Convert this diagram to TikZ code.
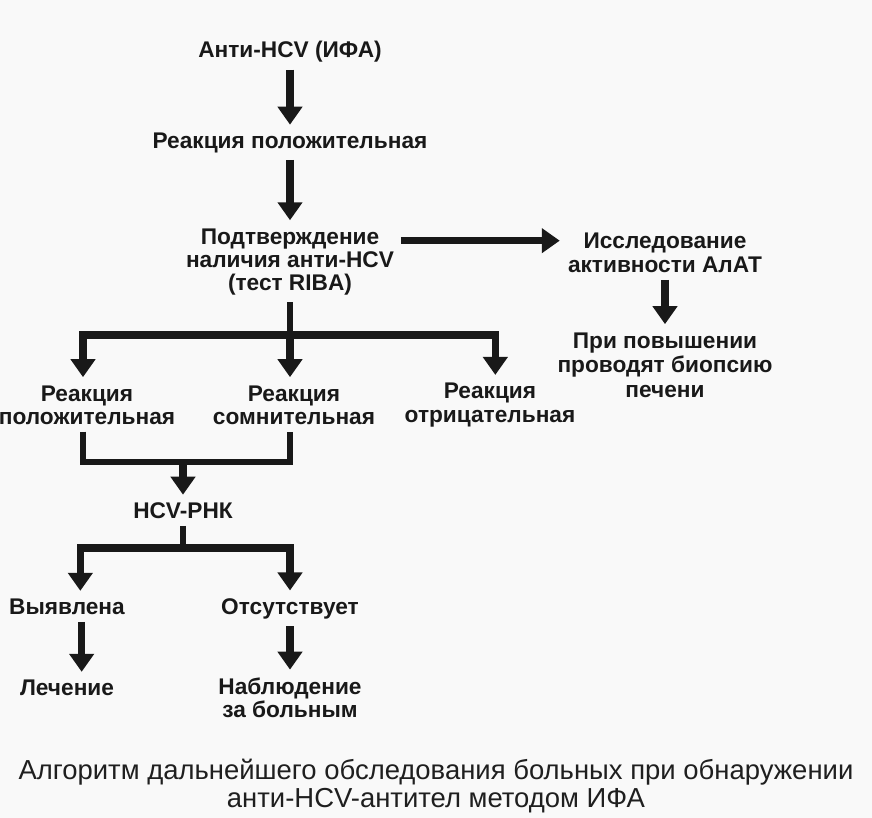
\documentclass[tikz,border=0pt]{standalone}
\usepackage{fontspec}
\setmainfont{Liberation Sans}
\usetikzlibrary{arrows.meta}
\begin{document}
\begin{tikzpicture}[x=0.75pt,y=-0.75pt,
  lbl/.style={font=\bfseries\fontsize{17}{17.5}\selectfont, align=center, inner sep=1pt, text=black!90},
  captxt/.style={font=\fontsize{20.6}{20.5}\selectfont, align=center, inner sep=0pt, text=black!88},
  arr/.style={line width=5.5pt, draw=black!90, -{Triangle[width=18pt,length=13.5pt]}, shorten <=4pt, shorten >=5pt},
  ln/.style={line width=5pt, draw=black!90},
]
\fill[gray!5] (0,0) rectangle (872,818);
\useasboundingbox (0,0) rectangle (872,818);

\node[lbl] (a) at (290,52) {Анти-HCV (ИФА)};
\node[lbl] (b) at (290,143) {Реакция положительная};
\node[lbl] (riba) at (290,262) {Подтверждение\\наличия анти-HCV\\(тест RIBA)};
\node[lbl, font=\bfseries\fontsize{17}{18}\selectfont] (alat) at (665,253) {Исследование\\активности АлАТ};
\node[lbl, font=\bfseries\fontsize{17}{18.5}\selectfont] (biop) at (665,365) {При повышении\\проводят биопсию\\печени};
\node[lbl] (r1) at (87,405) {Реакция\\положительная};
\node[lbl] (r2) at (294,405) {Реакция\\сомнительная};
\node[lbl] (r3) at (490,405) {Реакция\\отрицательная};
\node[lbl] (rna) at (183,511) {HCV-РНК};
\node[lbl] (v) at (67,607) {Выявлена};
\node[lbl] (o) at (290,609) {Отсутствует};
\node[lbl] (l) at (67,688) {Лечение};
\node[lbl] (n) at (290,698) {Наблюдение\\за больным};

\node[captxt] (caption) at (436,786) {Алгоритм дальнейшего обследования больных при обнаружении\\анти-HCV-антител методом ИФА};

\draw[arr] (a) -- (b);
\draw[arr] (b) -- (riba);
\draw[arr] ([yshift=16pt]riba.east) -- ([yshift=16pt]riba.east -| alat.west);
\draw[arr] (alat) -- (biop);

\coordinate (j1) at (290,335);
\draw[ln, shorten <=4pt] (riba.south) -- (j1);
\draw[arr, shorten <=0pt] (j1) -| ([xshift=-3pt]r1.north);
\draw[arr, shorten <=0pt] (j1) -| ([xshift=4pt]r3.north);
\draw[arr, shorten <=0pt] (j1) -- (j1 |- r2.north);

\coordinate (j2) at (183,462);
\draw[ln, shorten <=4pt, shorten >=4pt] ([xshift=-3pt]r1.south) |- (j1 |- j2) -- (j1 |- r2.south);
\draw[arr, shorten <=0pt] (j2) -- (rna);

\coordinate (j3) at (183,548);
\draw[ln, shorten <=4pt] (rna.south) -- (j3);
\draw[arr, shorten <=0pt] (j3) -| ([xshift=10pt]v.north);
\draw[arr, shorten <=0pt] (j3) -| (o.north);
\draw[arr] ([xshift=11pt]v.south) -- ([xshift=11pt]v.south |- l.north);
\draw[arr] (o) -- (n);
\end{tikzpicture}
\end{document}
